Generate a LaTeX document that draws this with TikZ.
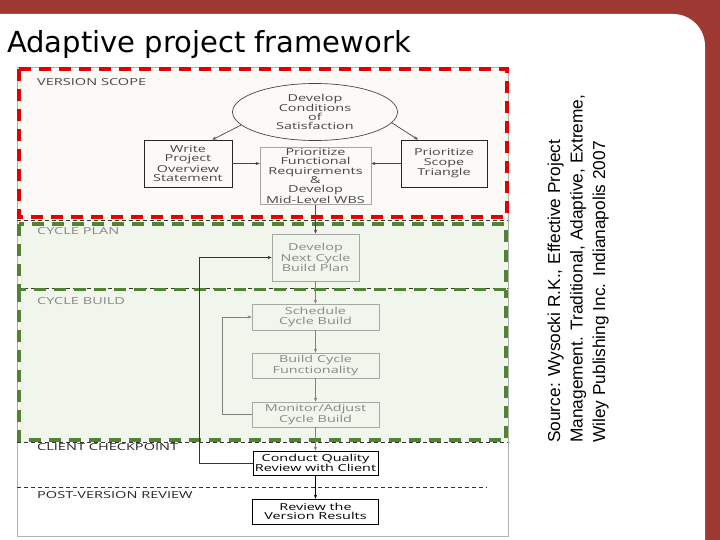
\documentclass[tikz,border=0pt]{standalone}
\usepackage{fontspec}
\usetikzlibrary{positioning, arrows.meta, calc, shapes.geometric}
\newfontfamily\titlefont{DejaVu Sans}
\newfontfamily\boxfont[FakeStretch=1.5]{Open Sans}
\newfontfamily\srcfont{Liberation Sans}
\definecolor{frame}{RGB}{158, 56, 50}
\definecolor{scopered}{RGB}{226, 0, 0}
\definecolor{cyclegreen}{RGB}{84, 130, 53}
\definecolor{scopefill}{RGB}{252, 250, 247}
\definecolor{cyclefill}{RGB}{241, 246, 237}
\definecolor{inkdark}{RGB}{70, 70, 70}
\definecolor{inklight}{RGB}{135, 135, 135}

\begin{document}
\begin{tikzpicture}[
    x=1pt, y=-1pt,
    >=Stealth,
    task/.style={
        rectangle, draw=#1, line width=0.7pt,
        font=\boxfont\fontsize{9.6}{9.3}\selectfont,
        align=center, inner sep=1pt,
    },
    lane/.style={
        font=\boxfont\fontsize{9.7}{10}\selectfont,
        anchor=west, inner sep=0pt, text=#1,
    },
    flow/.style={
        -{Stealth[length=4pt, width=3.2pt]},
        line width=0.7pt, draw=#1,
    },
    bigdash/.style={
        draw=#1, line width=3.6pt,
        dash pattern=on 12pt off 8pt,
    },
    thindash/.style={
        draw=black!80, line width=0.6pt,
        dash pattern=on 4pt off 3pt,
    },
]
\useasboundingbox (0, 0) rectangle (720, 540);

% =============== Slide frame ===============
\fill[frame] (0, 0) rectangle (720, 540);
\fill[white, rounded corners=32pt]
    (-40, 14) -- (705, 14) -- (705, 600) -- (-40, 600) -- cycle;
\node[font=\titlefont\fontsize{29}{34}\selectfont, anchor=base west,
    inner sep=0pt] (title) at (7, 53) {Adaptive project framework};

% =============== Swim lanes ===============
\fill[scopefill] (17, 67) rectangle (508, 220);
\fill[cyclefill] (17, 220) rectangle (508, 442);
\draw[gray!60, line width=0.8pt] (17, 67) rectangle (508, 536);
\draw[thindash] (17, 220) -- (508, 220);
\draw[thindash] (17, 288) -- (508, 288);
\draw[thindash] (17, 442) -- (508, 442);
\draw[thindash] (17, 487) -- (487, 487);

\node[lane=inkdark]   (lscope)  at (37, 82.5) {VERSION SCOPE};
\node[lane=inklight]  (lplan)   at (37, 231)  {CYCLE PLAN};
\node[lane=inklight]  (lbuild)  at (37, 301)  {CYCLE BUILD};
\node[lane=black!85]  (lclient) at (37, 447)  {CLIENT CHECKPOINT};
\node[lane=black!85]  (lpost)   at (37, 495.5) {POST-VERSION REVIEW};

% =============== Version scope ===============
\node[ellipse, draw=inkdark, line width=0.7pt, text=inkdark,
    font=\boxfont\fontsize{9.6}{9}\selectfont, align=center,
    minimum width=165pt, minimum height=57pt, inner sep=0pt]
    (cos) at (315, 112) {Develop\\Conditions\\of\\Satisfaction};
\node[task=black!85, text=inkdark, minimum width=88pt, minimum height=47pt]
    (write) at (188, 163.5) {Write\\Project\\Overview\\Statement};
\node[task=gray!70, text=inkdark, minimum width=111pt, minimum height=57pt]
    (prio) at (315.5, 176) {Prioritize\\Functional\\Requirements\\\&\\Develop\\Mid-Level WBS};
\node[task=black!85, text=inkdark, minimum width=86pt, minimum height=47pt]
    (scope) at (444, 163.5) {Prioritize\\Scope\\Triangle};

% =============== Cycle plan and build ===============
\node[task=gray!70, text=inklight, minimum width=87pt, minimum height=47pt]
    (plan) at (315.5, 257.5) {Develop\\Next Cycle\\Build Plan};
\node[task=gray!70, text=inklight, minimum width=127pt, minimum height=26pt]
    (sched) at (315.5, 317) {Schedule\\Cycle Build};
\node[task=gray!70, text=inklight, minimum width=127pt, minimum height=25pt]
    (build) at (315.5, 365.5) {Build Cycle\\Functionality};
\node[task=gray!70, text=inklight, minimum width=127pt, minimum height=25pt]
    (monitor) at (315.5, 414.5) {Monitor/Adjust\\Cycle Build};

% =============== Client checkpoint and review ===============
\node[task=black, text=black, minimum width=125pt, minimum height=24pt]
    (quality) at (315.5, 463) {Conduct Quality\\Review with Client};
\node[task=black, text=black, minimum width=126pt, minimum height=25pt]
    (results) at (315.5, 511.5) {Review the\\Version Results};

% =============== Lane borders on top ===============
\draw[bigdash=scopered] (19, 69) rectangle (507, 217);
\draw[bigdash=cyclegreen] (19, 224) rectangle (506, 289.5);
% cycle build shares its top edge with the cycle plan box
\draw[bigdash=cyclegreen] (19, 289.5) -- (19, 440) -- (506, 440) -- (506, 289.5);

% =============== Flow arrows ===============
\draw[flow=inkdark] (cos.190) -- ($(write.north)!0.55!(write.north east)$);
\draw[flow=inkdark] (cos.352) -- ($(scope.north west)!0.4!(scope.north)$);
\draw[flow=inkdark] (write.east) -- (write.east -| prio.west);
\draw[flow=inkdark] (scope.west) -- (scope.west -| prio.east);
\draw[flow=inkdark] (prio.south) -- (plan.north);
\draw[flow=gray] (plan.south) -- (sched.north);
\draw[flow=gray] (sched.south) -- (build.north);
\draw[flow=gray] (build.south) -- (monitor.north);
\draw[flow=gray] (monitor.south) -- (quality.north);
\draw[flow=black] (quality.south) -- (results.north);

% Feedback loops
\draw[flow=gray] (monitor.west) -- ++(-29, 0) |- (sched.west);
\draw[flow=black!80] (quality.west) -- ++(-53, 0) |- (plan.west);

% =============== Source ===============
\node[font=\srcfont\fontsize{17.3}{22.5}\selectfont, rotate=90,
    anchor=north west, align=left, inner sep=0pt]
    (source) at (547.5, 443)
    {Source: Wysocki R.K., Effective Project\\
     Management. Traditional, Adaptive, Extreme,\\
     Wiley Publishing Inc. Indianapolis 2007};

\end{tikzpicture}
\end{document}
